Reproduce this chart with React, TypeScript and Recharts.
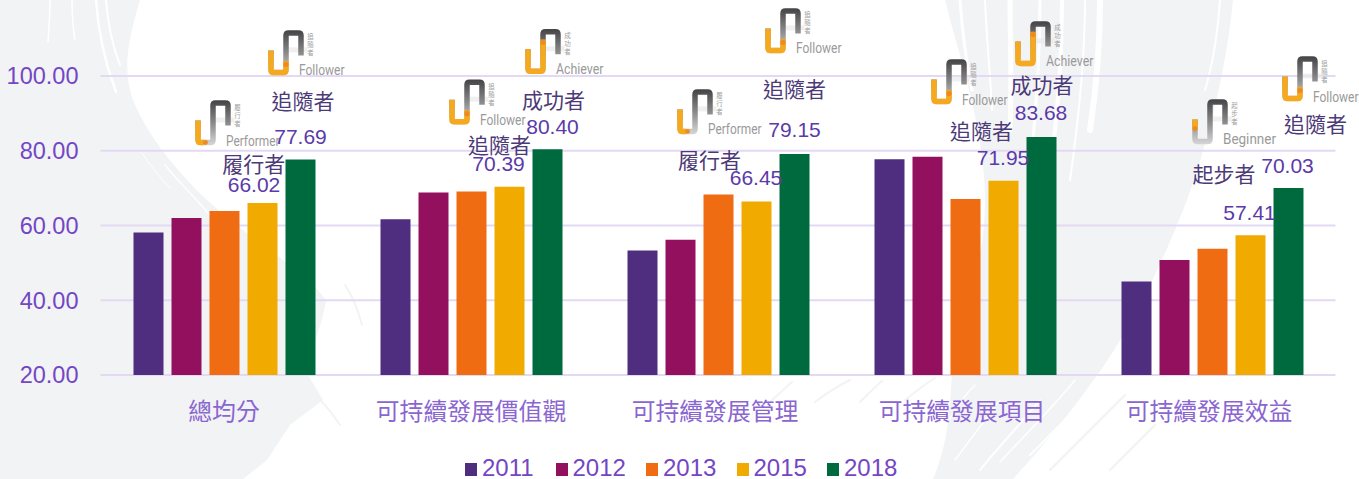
import { BarChart, Bar, XAxis, YAxis, CartesianGrid, Legend, LabelList } from "recharts";

const categories = ["總均分", "可持續發展價值觀", "可持續發展管理", "可持續發展項目", "可持續發展效益"];
const years = ["2011", "2012", "2013", "2015", "2018"];
const values2011 = [58.1, 61.7, 53.3, 77.7, 45.0];
const values2012 = [62.0, 68.8, 56.2, 78.4, 50.8];
const values2013 = [63.9, 69.1, 68.3, 67.1, 53.8];
const values2015 = [66.02, 70.39, 66.45, 71.95, 57.41];
const values2018 = [77.69, 80.4, 79.15, 83.68, 70.03];
const levels2015 = ["履行者", "追隨者", "履行者", "追隨者", "起步者"];
const levels2018 = ["追隨者", "成功者", "追隨者", "成功者", "追隨者"];
const yTicks = [20, 40, 60, 80, 100];

const COLORS = ["#4f2d7f", "#93105f", "#ef6c12", "#f0aa00", "#006a3f"];

// english caption, its width, and how far the orange runs along the badge path
const LEVEL_INFO: Record<string, { en: string; w: number; progress: number }> = {
  起步者: { en: "Beginner", w: 53, progress: 0.09 },
  履行者: { en: "Performer", w: 53.5, progress: 0.24 },
  追隨者: { en: "Follower", w: 45.5, progress: 0.41 },
  成功者: { en: "Achiever", w: 47.5, progress: 0.59 },
};

// label offsets from the top centre of each bar: value, level name, badge
const place2015 = [
  { v: [-8.5, -19], n: [-8.7, -40], b: [-67, -102.5] },
  { v: [-11, -23.5], n: [-10, -43], b: [-60, -107] },
  { v: [-0.5, -23.6], n: [-47, -42], b: [-79, -112] },
  { v: [-0.5, -23.6], n: [-22, -51.3], b: [-72, -121.3] },
  { v: [-1, -23], n: [-26.5, -62], b: [-58, -135.7] },
];
const place2018 = [
  { v: [0, -23.3], n: [2.5, -59], b: [-32, -129] },
  { v: [5, -23], n: [6, -50], b: [-22, -120] },
  { v: [0, -24], n: [0, -65.5], b: [-29, -145.5] },
  { v: [-0.5, -24.3], n: [0.5, -52.6], b: [-26, -115.6] },
  { v: [-1, -23], n: [27, -65], b: [-6, -131.5] },
];
// the last three category captions sit a little left of their groups
const tickNudge = [0, 0, -3, -3, -3];

const data = categories.map((name, i) => ({
  name,
  y2011: values2011[i],
  y2012: values2012[i],
  y2013: values2013[i],
  y2015: values2015[i],
  y2018: values2018[i],
}));

const BADGE_PATH = "M2.5 20 V39.5 Q2.5 42 5 42 H15 Q17.5 42 17.5 39.5 V5 Q17.5 2.5 20 2.5 H30 Q32.5 2.5 32.5 5 V25";
const SANS = "'Liberation Sans', Arial, sans-serif";
const CJK = "'Noto Sans CJK TC', 'Liberation Sans', sans-serif";

function Badge({ x, y, level }: { x: number; y: number; level: string }) {
  const info = LEVEL_INFO[level];
  const run = info.progress * 113;
  return (
    <g transform={`translate(${x},${y})`}>
      <rect x={15} y={17} width={24} height={5} fill="#e9e9e9" opacity={0.7} />
      <path d={BADGE_PATH} fill="none" stroke="url(#badgeGrey)" strokeWidth={5.5} />
      <path d={BADGE_PATH} fill="none" stroke="#f5a91e" strokeWidth={5.5} strokeDasharray={`${run} 400`} />
      {level === "起步者" || level === "履行者" ? (
        <circle cx={level === "起步者" ? 2.5 : 10} cy={level === "起步者" ? 29 : 42} r={2.4} fill="#ee8a1f" />
      ) : (
        <circle cx={17.5} cy={level === "成功者" ? 13 : 34} r={2.6} fill="#ee8a1f" />
      )}
      {level.split("").map((ch, i) => (
        <text key={i} x={42} y={6 + i * 8} fontSize={6.5} fill="#a0a0a0" textAnchor="middle" dominantBaseline="central" fontFamily={CJK}>
          {ch}
        </text>
      ))}
      <text
        x={30.5}
        y={40}
        fontSize={14}
        fill="#9a9a9a"
        dominantBaseline="central"
        fontFamily="Roboto, sans-serif"
        textLength={info.w}
        lengthAdjust="spacingAndGlyphs"
      >
        {info.en}
      </text>
    </g>
  );
}

function scoreLabel(levels: string[], place: typeof place2015) {
  return (props: any) => {
    const { x, y, width, value, index } = props;
    const cx = Number(x) + Number(width) / 2;
    const top = Number(y);
    const p = place[index];
    return (
      <g>
        <Badge x={cx + p.b[0]} y={top + p.b[1]} level={levels[index]} />
        <text x={cx + p.n[0]} y={top + p.n[1]} fontSize={21} fill="#4c3a78" textAnchor="middle" dominantBaseline="central" fontFamily={CJK}>
          {levels[index]}
        </text>
        <text x={cx + p.v[0]} y={top + p.v[1]} fontSize={21} fill="#5b3aa9" textAnchor="middle" dominantBaseline="central" fontFamily={SANS}>
          {Number(value).toFixed(2)}
        </text>
      </g>
    );
  };
}

function CategoryTick({ x, y, payload, index }: any) {
  return (
    <text
      x={x + tickNudge[index]}
      y={y + 6}
      fontSize={23.8}
      fill="#8a66d0"
      textAnchor="middle"
      dominantBaseline="central"
      fontFamily={CJK}
    >
      {payload.value}
    </text>
  );
}

function YearLegend({ payload }: any) {
  return (
    <div style={{ display: "flex", marginLeft: 465, marginTop: 13, height: 28, alignItems: "center" }}>
      {(payload || []).map((item: any) => (
        <div key={item.value} style={{ display: "flex", alignItems: "center", width: 90.5 }}>
          <span style={{ width: 12, height: 13, background: item.color, marginRight: 5, position: "relative", top: 1 }} />
          <span style={{ fontFamily: SANS, fontSize: 24, color: "#7446c4", lineHeight: "28px" }}>{item.value}</span>
        </div>
      ))}
    </div>
  );
}

// brush strokes behind the chart
function BrushBackground() {
  const grey = "#f2f3f5";
  const leftWhite: [string, number][] = [
    ["M96 0 C98 30 104 60 116 92", 2.5],
    ["M106 0 C108 25 112 45 120 65", 2],
    ["M72 0 C72 15 73 28 75 40", 1.5],
    ["M50 0 C50 15 49 28 48 42", 1.5],
    ["M130 62 C138 100 155 130 178 158", 2],
    ["M165 165 C185 190 205 205 222 232", 1.5],
    ["M140 150 C150 165 160 178 170 188", 1],
  ];
  const rightWhite: [string, number][] = [
    ["M960 0 C962 30 966 60 972 90", 3],
    ["M985 0 C986 30 990 70 992 110", 2],
    ["M1010 0 C1010 40 1012 80 1010 130", 5],
    ["M1040 0 C1040 45 1038 90 1032 150", 3],
    ["M1062 0 C1062 50 1060 100 1050 170", 4],
    ["M1085 0 C1085 55 1080 110 1070 180", 2],
    ["M1100 0 C1100 50 1096 90 1090 130", 6],
    ["M1220 0 C1218 30 1214 60 1205 90", 2],
    ["M1105 375 C1085 400 1060 425 1030 455", 2],
    ["M1075 380 C1055 405 1030 430 1000 462", 1.5],
    ["M1040 400 C1020 425 1000 445 980 470", 2],
    ["M1000 400 C985 420 970 440 955 460", 1.5],
    ["M975 385 C965 395 958 405 950 418", 1.5],
  ];
  const greyThin = [
    "M770 402 C778 395 785 388 792 382",
    "M815 402 C828 392 838 386 850 380",
    "M860 402 C868 394 875 387 882 381",
    "M905 400 C915 392 925 384 935 378",
    "M345 285 C352 295 358 310 362 325",
    "M320 400 C328 408 334 416 340 425",
    "M1050 470 C1075 445 1100 420 1125 395",
    "M1110 470 C1125 455 1140 440 1155 425",
  ];
  return (
    <svg width={1359} height={479} style={{ position: "absolute", left: 0, top: 0 }}>
      <path
        d="M0 0 L140 0 C128 40 122 70 133 100 C145 130 170 165 207 200 C250 240 305 270 326 300 C322 330 308 350 308 375 L323 400 L290 425 L267 460 L243 479 L0 479 Z"
        fill={grey}
      />
      <path
        d="M945 0 L1233 0 C1225 80 1205 150 1187 200 C1160 270 1125 340 1090 385 C1065 420 1035 455 1013 479 L933 479 C950 440 950 400 952 375 C965 320 985 260 985 200 C985 130 960 60 945 0 Z"
        fill={grey}
      />
      {rightWhite.map(([d, w], i) => (
        <path key={i} d={d} fill="none" stroke="#ffffff" strokeWidth={w} strokeLinecap="round" />
      ))}
      {leftWhite.map(([d, w], i) => (
        <path key={i} d={d} fill="none" stroke="#ffffff" strokeWidth={w} strokeLinecap="round" />
      ))}
      {greyThin.map((d, i) => (
        <path key={i} d={d} fill="none" stroke={grey} strokeWidth={2} strokeLinecap="round" />
      ))}
    </svg>
  );
}

export default function App() {
  return (
    <div style={{ position: "absolute", left: 0, top: 0, width: 1359, height: 479, overflow: "hidden", background: "#fff" }}>
      <BrushBackground />
      <svg width={0} height={0} style={{ position: "absolute" }}>
        <defs>
          <linearGradient id="badgeGrey" gradientUnits="userSpaceOnUse" x1={0} y1={0} x2={0} y2={44}>
            <stop offset="0%" stopColor="#444446" />
            <stop offset="55%" stopColor="#8f8f90" />
            <stop offset="100%" stopColor="#d4d4d4" />
          </linearGradient>
        </defs>
      </svg>
      <div style={{ position: "absolute", left: 0, top: 0 }}>
        <BarChart
          width={1359}
          height={479}
          data={data}
          margin={{ top: 1.25, right: 23.5, bottom: 0, left: 0 }}
          barSize={30}
          barGap={8}
          style={{ background: "transparent" }}
        >
          <CartesianGrid vertical={false} stroke="#e3d9f3" strokeWidth={2} horizontalValues={yTicks} />
          <XAxis dataKey="name" interval={0} height={66} axisLine={false} tickLine={false} tickMargin={22} tick={CategoryTick} />
          <YAxis
            width={100.5}
            domain={[20, 120]}
            ticks={yTicks}
            axisLine={false}
            tickLine={false}
            tickMargin={16}
            tickFormatter={(v: number) => v.toFixed(2)}
            tick={{ fontSize: 23.5, fill: "#7446c4", fontFamily: SANS }}
          />
          <Legend verticalAlign="bottom" height={38} content={<YearLegend />} />
          <Bar dataKey="y2011" name={years[0]} fill={COLORS[0]} isAnimationActive={false} />
          <Bar dataKey="y2012" name={years[1]} fill={COLORS[1]} isAnimationActive={false} />
          <Bar dataKey="y2013" name={years[2]} fill={COLORS[2]} isAnimationActive={false} />
          <Bar dataKey="y2015" name={years[3]} fill={COLORS[3]} isAnimationActive={false}>
            <LabelList dataKey="y2015" content={scoreLabel(levels2015, place2015)} />
          </Bar>
          <Bar dataKey="y2018" name={years[4]} fill={COLORS[4]} isAnimationActive={false}>
            <LabelList dataKey="y2018" content={scoreLabel(levels2018, place2018)} />
          </Bar>
        </BarChart>
      </div>
    </div>
  );
}
